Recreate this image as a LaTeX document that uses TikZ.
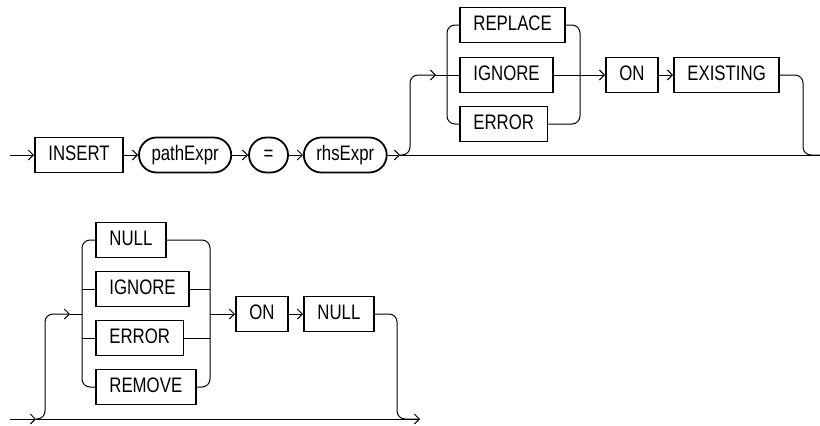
\documentclass[tikz,border=0pt]{standalone}
\usepackage{fontspec}
\setmainfont[FakeStretch=0.8]{Liberation Sans}
\usetikzlibrary{arrows.meta,positioning}

\begin{document}
\begin{tikzpicture}[
  x=1pt,y=-1pt,
  node distance=14pt,
  every node/.style={font=\fontsize{21}{24}\selectfont,text height=15pt,text depth=4pt,inner ysep=0pt,minimum height=35pt},
  term/.style={draw,line width=1.8pt,inner xsep=13.5pt},
  nonterm/.style={draw,line width=1.8pt,inner xsep=12.5pt,rounded corners=17.5pt},
  rail/.style={line width=1pt,rounded corners=8pt},
  arrow/.style={rail,-{Straight Barb[length=5pt,width=10pt]}}
]
\path[use as bounding box,fill=white] (0,0) rectangle (820,426);

\node[term,anchor=west] (insert) at (34,155) {INSERT};
\node[nonterm,right=of insert] (path) {pathExpr};
\node[nonterm,right=16pt of path,minimum width=39pt] (eq) {=};
\node[nonterm,right=of eq] (rhs) {rhsExpr};

\node[term,anchor=west] (replace) at (459,25) {REPLACE};
\node[term,anchor=west] (ignoreA) at (459,75) {IGNORE};
\node[term,anchor=west] (errorA) at (459,124) {ERROR};
\node[term,anchor=west] (onA) at (605,75) {ON};
\node[term,right=of onA] (existing) {EXISTING};

\node[term,anchor=west] (nullA) at (95,240) {NULL};
\node[term,anchor=west] (ignoreB) at (95,289) {IGNORE};
\node[term,anchor=west] (errorB) at (95,338) {ERROR};
\node[term,anchor=west] (remove) at (95,387) {REMOVE};
\node[term,anchor=west] (onB) at (235,314) {ON};
\node[term,right=of onB] (nullB) {NULL};

\coordinate (startA) at (10,155);
\coordinate (jA) at (400,155);
\coordinate (endA) at (820,155);
\coordinate (upA) at (410,75);
\coordinate (aA) at (436,75);
\coordinate (lA) at (447,75);
\coordinate (rA) at (580,75);
\coordinate (dnA) at (803,155);

\coordinate (startB) at (10,419);
\coordinate (jB) at (36,419);
\coordinate (endB) at (420,419);
\coordinate (upB) at (45,314);
\coordinate (aB) at (70,314);
\coordinate (lB) at (82,314);
\coordinate (rB) at (210,314);
\coordinate (dnB) at (397,419);

\draw[arrow] (startA) -- (insert);
\draw[arrow] (insert) -- (path);
\draw[arrow] (path) -- (eq);
\draw[arrow] (eq) -- (rhs);
\draw[arrow] (rhs) -- (jA);
\draw[rail] (jA) -- (endA);
\draw[arrow] (jA) -| (upA) -- (aA);
\draw[rail] (aA) -- (ignoreA);
\draw[rail] (lA) |- (replace.west);
\draw[rail] (lA) |- (errorA.west);
\draw[rail] (replace.east) -| (rA);
\draw[rail] (errorA.east) -| (rA);
\draw[arrow] (ignoreA) -- (onA);
\draw[arrow] (onA) -- (existing);
\draw[rail] (existing.east) -| (dnA) -- (endA);

\draw[arrow] (startB) -- (jB);
\draw[arrow] (jB) -- (endB);
\draw[arrow] (jB) -| (upB) -- (aB);
\draw[rail] (aB) -- (lB);
\draw[rail] (lB) |- (nullA.west);
\draw[rail] (lB) |- (remove.west);
\draw[rail] (ignoreB.west -| lB) -- (ignoreB);
\draw[rail] (errorB.west -| lB) -- (errorB);
\draw[rail] (nullA.east) -| (rB);
\draw[rail] (remove.east) -| (rB);
\draw[rail] (ignoreB.east) -- (ignoreB.east -| rB);
\draw[rail] (errorB.east) -- (errorB.east -| rB);
\draw[arrow] (rB) -- (onB);
\draw[arrow] (onB) -- (nullB);
\draw[rail] (nullB.east) -| (dnB) -- (endB);
\end{tikzpicture}
\end{document}
